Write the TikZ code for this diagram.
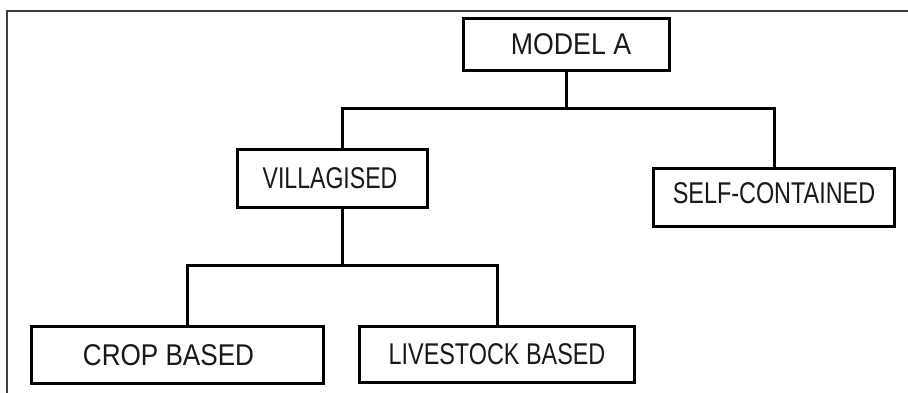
\documentclass[tikz,border=0pt]{standalone}
\usepackage{fontspec}
\usepackage{graphicx}
\setmainfont{Liberation Sans}
\begin{document}
\begin{tikzpicture}[x=1pt,y=-1pt,
  box/.style={draw=black,line width=3pt,fill=white,inner sep=0pt,
    font=\fontsize{30}{36}\selectfont,text=black!90},
  conn/.style={draw=black,line width=3pt},
  frameline/.style={draw=black!75,line width=1.5pt}]
\useasboundingbox[fill=white] (0,0) rectangle (908,393);
% outer frame
\coordinate (fa) at (7,393);
\coordinate (fb) at (7,11);
\coordinate (fc) at (908,11);
\draw[frameline] (fa) -- (fb) -- (fc);
% boxes
\node[box,minimum width=206pt,minimum height=52pt] (ma) at (566.5,44.5) {\hspace*{9pt}\scalebox{0.89}[1]{MODEL A}};
\node[box,minimum width=190pt,minimum height=58pt] (vil) at (332.5,178.5) {\scalebox{0.77}[1]{VILLAGISED}\hspace*{5pt}};
\node[box,minimum width=241pt,minimum height=58pt] (self) at (774,197.5) {\raisebox{8pt}{\scalebox{0.78}[1]{SELF-CONTAINED}}};
\node[box,minimum width=292pt,minimum height=57pt] (crop) at (177.5,355) {\scalebox{0.87}[1]{CROP BASED}\hspace*{18pt}};
\node[box,minimum width=275pt,minimum height=56pt] (live) at (497,354.5) {\scalebox{0.78}[1]{LIVESTOCK BASED}};
% junctions
\coordinate (j1) at (567,109);
\coordinate (j2) at (342,265);
% connectors
\draw[conn] (ma.south) -- (ma.south |- j1);
\draw[conn,line cap=rect] ([xshift=9.5pt]vil.north) |- (j1) -| (self.north);
\draw[conn] ([xshift=9.5pt]vil.south) -- (j2);
\draw[conn,line cap=rect] ([xshift=9.5pt]crop.north) |- (j2) -| (live.north);
\end{tikzpicture}
\end{document}
